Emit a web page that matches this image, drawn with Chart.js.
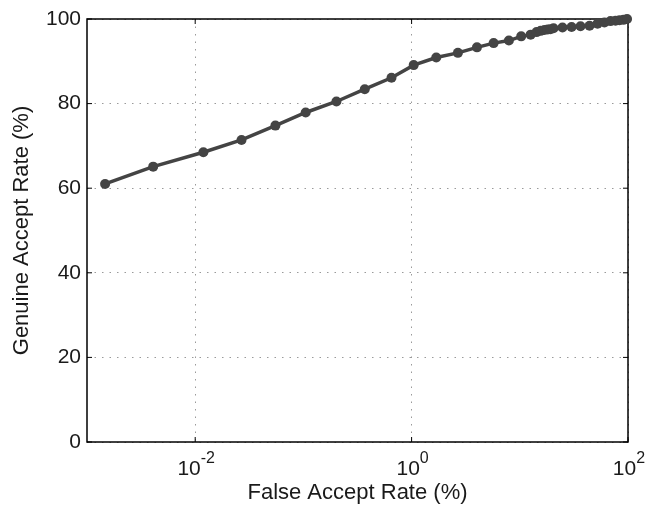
<!DOCTYPE html>
<html>
<head>
<meta charset="utf-8">
<script src="https://cdn.jsdelivr.net/npm/chart.js@4"></script>
<style>
  html, body { margin: 0; padding: 0; background: #fff; }
  #wrap { width: 646px; height: 510px; }
</style>
</head>
<body>
<div id="wrap"><canvas id="rocChart"></canvas></div>
<script>
// ROC curve: false accept rate (%) vs genuine accept rate (%)
const far = [0.00147, 0.00409, 0.0119, 0.0268, 0.0551, 0.105, 0.202, 0.369, 0.652, 1.045,
             1.69, 2.68, 4.02, 5.73, 7.93, 10.3, 12.6, 14.3, 15.6, 16.9,
             18.1, 19.2, 20.5, 24.8, 30.1, 36.4, 44.1, 52.3, 60.6, 68.9,
             76.7, 83.5, 90.8, 98];
const gar = [61.0, 65.1, 68.5, 71.4, 74.8, 77.9, 80.5, 83.4, 86.1, 89.1,
             90.9, 92.0, 93.3, 94.3, 94.9, 95.9, 96.3, 96.9, 97.2, 97.4,
             97.5, 97.6, 97.8, 98.0, 98.1, 98.3, 98.4, 98.9, 99.2, 99.5,
             99.6, 99.7, 99.8, 100];
const xTicks = [0.01, 1, 100];
const yTicks = [0, 20, 40, 60, 80, 100];

const ink = '#1a1a1a';
const fontFamily = '"Liberation Sans", Arial, Helvetica, sans-serif';

// box around the plot plus short inward tick marks, like a matlab axes
const boxPlugin = {
  id: 'box',
  beforeDatasetsDraw(chart) {
    const {ctx, chartArea: a, scales} = chart;
    ctx.save();
    ctx.strokeStyle = '#000';
    ctx.lineWidth = 1.5;
    ctx.strokeRect(a.left, a.top, a.right - a.left, a.bottom - a.top);
    ctx.lineWidth = 1;
    ctx.beginPath();
    yTicks.forEach(v => {
      const y = scales.y.getPixelForValue(v);
      ctx.moveTo(a.left, y); ctx.lineTo(a.left + 5, y);
      ctx.moveTo(a.right, y); ctx.lineTo(a.right - 5, y);
    });
    xTicks.forEach(v => {
      const x = scales.x.getPixelForValue(v);
      ctx.moveTo(x, a.bottom); ctx.lineTo(x, a.bottom - 5);
      ctx.moveTo(x, a.top); ctx.lineTo(x, a.top + 5);
    });
    ctx.stroke();
    ctx.restore();
  },
  // x labels as powers of ten with a raised exponent
  afterDraw(chart) {
    const {ctx, chartArea: a, scales} = chart;
    ctx.save();
    ctx.fillStyle = ink;
    ctx.textBaseline = 'alphabetic';
    ctx.textAlign = 'left';
    xTicks.forEach(v => {
      const e = Math.round(Math.log10(v));
      const base = '10';
      const exp = e < 0 ? '-' + Math.abs(e) : String(e);
      ctx.font = '21px ' + fontFamily;
      const wb = ctx.measureText(base).width;
      ctx.font = '16px ' + fontFamily;
      const we = ctx.measureText(exp).width;
      const x0 = scales.x.getPixelForValue(v) - (wb + we) / 2 + 1;
      ctx.font = '21px ' + fontFamily;
      ctx.fillText(base, x0, a.bottom + 33);
      ctx.font = '16px ' + fontFamily;
      ctx.fillText(exp, x0 + wb, a.bottom + 21);
    });
    ctx.restore();
  }
};

const ctx = document.getElementById('rocChart');

const gridOpts = {color: '#9a9a9a', lineWidth: 1, drawTicks: false};
const borderOpts = {display: false, dash: [1.5, 6]};

const chart = new Chart(ctx, {
  type: 'scatter',
  data: {
    datasets: [{
      data: far.map((x, i) => ({x: x, y: gar[i]})),
      showLine: true,
      borderColor: '#444',
      backgroundColor: '#444',
      borderWidth: 3.5,
      pointRadius: 5,
      pointBorderWidth: 0,
      pointHoverRadius: 5,
      clip: false
    }]
  },
  options: {
    responsive: true,
    maintainAspectRatio: false,
    animation: false,
    layout: {padding: {left: 0, right: 18, top: 19, bottom: 0}},
    plugins: {legend: {display: false}, tooltip: {enabled: false}},
    scales: {
      x: {
        type: 'logarithmic',
        min: 0.001,
        max: 100,
        afterBuildTicks: s => { s.ticks = xTicks.map(v => ({value: v})); },
        afterFit: s => { s.height = 68; },
        border: borderOpts,
        grid: gridOpts,
        ticks: {display: false},
        title: {
          display: true,
          text: 'False Accept Rate (%)',
          color: ink,
          font: {family: fontFamily, size: 22},
          padding: {top: 0, bottom: 4}
        }
      },
      y: {
        min: 0,
        max: 100,
        afterBuildTicks: s => { s.ticks = yTicks.map(v => ({value: v})); },
        afterFit: s => { s.width = 87; },
        border: borderOpts,
        grid: gridOpts,
        ticks: {color: ink, padding: 6, font: {family: fontFamily, size: 21}},
        title: {
          display: true,
          text: 'Genuine Accept Rate (%)',
          color: ink,
          font: {family: fontFamily, size: 22},
          padding: {top: 9, bottom: 0}
        }
      }
    }
  },
  plugins: [boxPlugin]
});
</script>
</body>
</html>
